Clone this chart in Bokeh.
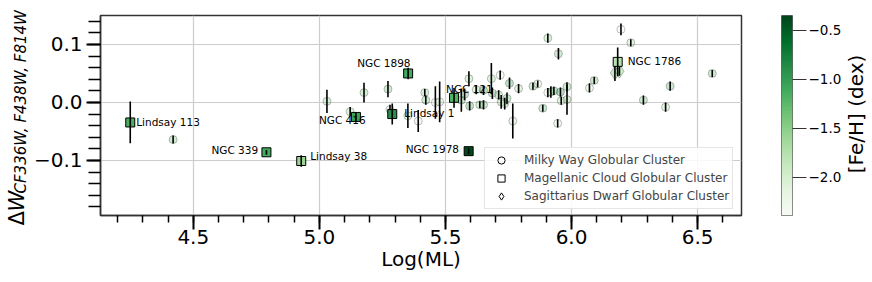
import numpy as np
from bokeh.plotting import figure
from bokeh.models import (ColumnDataSource, LinearColorMapper, Range1d, SingleIntervalTicker,
                          FixedTicker, CustomJSTickFormatter, Label, Legend, LegendItem)
from bokeh.layouts import row, column
from bokeh.palettes import Greens256
from bokeh.core.properties import value
from bokeh.embed import file_html
from bokeh.resources import INLINE

# ---------------- data ----------------
# Milky Way globular clusters
mw_logml = [4.42, 5.03, 5.122, 5.177, 5.272, 5.28, 5.351, 5.392, 5.418, 5.422, 5.46, 5.477,
            5.563, 5.576, 5.593, 5.596, 5.622, 5.636, 5.651, 5.651, 5.682, 5.686, 5.711, 5.717,
            5.721, 5.735, 5.744, 5.754, 5.767, 5.790, 5.847, 5.866, 5.886, 5.906, 5.906, 5.918,
            5.930, 5.945, 5.948, 5.956, 5.959, 5.982, 5.982, 6.071, 6.09, 6.196, 6.235, 6.285,
            6.373, 6.391, 6.558]
mw_dw = [-0.064, 0.002, -0.016, 0.017, 0.023, -0.012, -0.023, -0.032, 0.017, 0.004, 0.000, 0.001,
         0.004, 0.014, 0.041, -0.006, 0.022, -0.004, -0.004, 0.021, 0.041, 0.016, 0.013, 0.047,
         0.001, -0.002, 0.007, 0.033, -0.032, 0.024, 0.028, 0.032, -0.010, 0.111, 0.017, 0.018,
         0.020, -0.036, 0.084, 0.018, 0.003, 0.027, 0.005, 0.025, 0.038, 0.126, 0.103, 0.004,
         -0.008, 0.028, 0.050]
mw_err = [0.007, 0.020, 0.008, 0.017, 0.014, 0.008, 0.021, 0.019, 0.006, 0.008, 0.028, 0.035,
          0.020, 0.010, 0.013, 0.008, 0.008, 0.006, 0.008, 0.008, 0.027, 0.010, 0.008, 0.008,
          0.012, 0.010, 0.010, 0.010, 0.030, 0.008, 0.006, 0.006, 0.006, 0.008, 0.008, 0.010,
          0.007, 0.007, 0.010, 0.008, 0.007, 0.008, 0.026, 0.008, 0.006, 0.010, 0.006, 0.008,
          0.008, 0.008, 0.006]
mw_feh = [-1.3, -1.5, -1.6, -1.4, -1.3, -1.8, -1.7, -2.0, -1.5, -1.3, -2.1, -1.9,
          -1.2, -1.1, -1.5, -1.0, -1.6, -1.4, -1.2, -0.9, -1.6, -1.3, -1.5, -2.2,
          -1.4, -1.7, -1.2, -1.0, -1.8, -1.6, -1.3, -2.0, -1.2, -1.5, -2.3, -1.4,
          -1.1, -2.0, -1.3, -0.8, -1.6, -1.3, -1.5, -1.9, -1.2, -2.39, -1.6, -1.3,
          -1.7, -1.2, -1.3]

# Sagittarius dwarf globular clusters
sgr_logml = [6.172, 6.19]
sgr_dw = [0.051, 0.054]
sgr_err = [0.014, 0.008]
sgr_feh = [-1.49, -1.6]

# Magellanic Cloud globular clusters
mc_names = ["Lindsay 113", "NGC 339", "Lindsay 38", "NGC 416", "Lindsay 1",
            "NGC 1898", "NGC 121", "NGC 1978", "NGC 1786"]
mc_logml = [4.25, 4.79, 4.928, 5.145, 5.289, 5.352, 5.534, 5.592, 6.183]
mc_dw = [-0.0345, -0.086, -0.101, -0.025, -0.020, 0.050, 0.008, -0.084, 0.070]
mc_err = [0.036, 0.004, 0.010, 0.008, 0.018, 0.010, 0.017, 0.005, 0.025]
mc_feh = [-1.15, -1.12, -1.59, -1.05, -0.90, -1.10, -1.20, -0.38, -1.75]

feh_ticks = [-2.0, -1.5, -1.0, -0.5]
feh_low, feh_high = -2.39, -0.347
legend_labels = ["Milky Way Globular Cluster", "Magellanic Cloud Globular Cluster",
                 "Sagittarius Dwarf Globular Cluster"]

# ---------------- layout / style ----------------
label_offsets = {  # screen px (dx, dy) of left edge / middle of label text
    "Lindsay 113": (6, 0), "NGC 339": (-55, -2), "Lindsay 38": (9, -5),
    "NGC 416": (-37, 3), "Lindsay 1": (12, -1), "NGC 1898": (-51, -10),
    "NGC 121": (-8, -9), "NGC 1978": (-63, -2), "NGC 1786": (10, -1),
}
FONT = "DejaVu Sans"
H = 282

pal = list(Greens256)
def _lum(h):
    return int(h[1:3], 16) + int(h[3:5], 16) + int(h[5:7], 16)
if _lum(pal[0]) < _lum(pal[-1]):
    pal = pal[::-1]
mapper = LinearColorMapper(palette=pal, low=feh_low, high=feh_high)

def src(x, y, e, f, names=None):
    d = dict(x=x, y=y, feh=f,
             lo=[a - b for a, b in zip(y, e)], hi=[a + b for a, b in zip(y, e)])
    if names is not None:
        d["name"] = names
        d["dx"] = [label_offsets[n][0] for n in names]
        d["dy"] = [label_offsets[n][1] for n in names]
    return ColumnDataSource(d)

mw_src = src(mw_logml, mw_dw, mw_err, mw_feh)
sgr_src = src(sgr_logml, sgr_dw, sgr_err, sgr_feh)
mc_src = src(mc_logml, mc_dw, mc_err, mc_feh, mc_names)

def blank(width):
    f = figure(width=width, height=H, x_range=Range1d(0, 1), y_range=Range1d(0, 1),
               output_backend="svg", toolbar_location=None, x_axis_type=None, y_axis_type=None,
               min_border=0)
    f.grid.visible = False
    f.outline_line_color = None
    f.background_fill_color = "white"
    f.border_fill_color = "white"
    return f

def vlabel(fig, text, x, y, size, style="normal", align="left"):
    fig.add_layout(Label(x=x, y=y, x_units="screen", y_units="screen", text=text,
                         angle=np.pi / 2, text_font=FONT, text_font_size=size,
                         text_font_style=style, text_align=align,
                         text_baseline="alphabetic", text_color="black"))

# ---------------- y-axis title panel ----------------
ylab = blank(30)
vlabel(ylab, "Δ", 16, 57, "21px")
vlabel(ylab, "W", 16, 71, "21px", "italic")
vlabel(ylab, "CF336W, F438W, F814W", 20.5, 89, "15px", "italic")

# ---------------- main plot ----------------
p = figure(width=720, height=H, x_range=Range1d(4.132, 6.674), y_range=Range1d(-0.195, 0.150),
           output_backend="svg", toolbar_location=None,
           min_border_left=68, min_border_right=9, min_border_top=15, min_border_bottom=67)
p.background_fill_color = "white"
p.border_fill_color = "white"
p.outline_line_color = "#333333"
p.outline_line_width = 1.5

p.xaxis.ticker = SingleIntervalTicker(interval=0.5, num_minor_ticks=5)
p.yaxis.ticker = SingleIntervalTicker(interval=0.1, num_minor_ticks=5)
fmt = CustomJSTickFormatter(code="""
    if (Math.abs(tick) < 1e-9) { return '0.0'; }
    return tick.toFixed(1).replace('-', '\\u2212');
""")
p.xaxis.formatter = fmt
p.yaxis.formatter = fmt
for ax in (p.xaxis[0], p.yaxis[0]):
    ax.axis_line_color = "#333333"
    ax.axis_line_width = 1.5
    ax.major_tick_in = 0
    ax.minor_tick_in = 0
    ax.major_tick_line_width = 2
    ax.minor_tick_line_width = 1.5
    ax.major_tick_line_color = "black"
    ax.minor_tick_line_color = "black"
    ax.major_label_text_font = FONT
    ax.major_label_text_font_size = "20px"
    ax.major_label_text_color = "black"
p.xaxis.major_tick_out = 14
p.xaxis.minor_tick_out = 7
p.yaxis.major_tick_out = 14
p.yaxis.minor_tick_out = 12
p.xaxis.major_label_standoff = 0
p.yaxis.major_label_standoff = 4
p.xaxis.axis_label = "Log(ML)"
p.xaxis.axis_label_standoff = 0
p.xaxis.axis_label_text_font = FONT
p.xaxis.axis_label_text_font_size = "20px"
p.xaxis.axis_label_text_font_style = "normal"
p.xaxis.axis_label_text_color = "black"
p.grid.grid_line_color = "#cccccc"
p.grid.grid_line_width = 1.2

# legend-only renderers (zero-size, drawn beneath the real markers)
r_c = p.scatter("x", "y", source=mw_src, marker="circle", size=0,
                fill_color="white", line_color="black", line_width=1)
r_s = p.scatter("x", "y", source=mc_src, marker="square", size=0,
                fill_color="white", line_color="black", line_width=1)
r_d = p.scatter("x", "y", source=sgr_src, marker="diamond", size=0,
                fill_color="white", line_color="black", line_width=1)

# Milky Way circles
p.scatter("x", "y", source=mw_src, marker="circle", size=8,
          fill_color={"field": "feh", "transform": mapper}, fill_alpha=0.3,
          line_color="black", line_alpha=0.25, line_width=1)
p.segment(x0="x", y0="lo", x1="x", y1="hi", source=mw_src, line_color="black", line_width=1.6)

# Sagittarius diamonds
p.scatter("x", "y", source=sgr_src, marker="diamond", size=14,
          fill_color={"field": "feh", "transform": mapper}, fill_alpha=0.5,
          line_color="black", line_alpha=0.25)
p.segment(x0="x", y0="lo", x1="x", y1="hi", source=sgr_src, line_color="black", line_width=1.6)

# Magellanic Cloud squares
p.scatter("x", "y", source=mc_src, marker="square", size=9,
          fill_color={"field": "feh", "transform": mapper}, fill_alpha=1.0,
          line_color="black", line_width=1)
p.segment(x0="x", y0="lo", x1="x", y1="hi", source=mc_src, line_color="black", line_width=1.6)

p.text("x", "y", text="name", source=mc_src, x_offset="dx", y_offset="dy",
       text_font=value(FONT), text_font_size="10.5px", text_align="left",
       text_baseline="middle", text_color="black")

legend = Legend(items=[LegendItem(label=legend_labels[0], renderers=[r_c]),
                       LegendItem(label=legend_labels[1], renderers=[r_s]),
                       LegendItem(label=legend_labels[2], renderers=[r_d])],
                location=(384, 6), orientation="vertical",
                label_text_font=FONT, label_text_font_size="12px",
                glyph_height=18, glyph_width=26, label_height=14, spacing=-1,
                padding=3, margin=0, label_standoff=10,
                border_line_color="#cccccc", border_line_width=1,
                background_fill_color="white", background_fill_alpha=0.85)
p.add_layout(legend, "center")

# ---------------- colorbar ----------------
cb = figure(width=95, height=H, x_range=Range1d(0, 1), y_range=Range1d(feh_low, feh_high),
            output_backend="svg", toolbar_location=None, x_axis_type=None,
            y_axis_location="right",
            min_border_left=31, min_border_right=53, min_border_top=15, min_border_bottom=67)
cb.grid.visible = False
cb.outline_line_color = "#666666"
cb.outline_line_width = 1
cb.border_fill_color = "white"
grad = np.linspace(feh_low, feh_high, 256).reshape(256, 1)
cb.image(image=[grad], x=0, y=feh_low, dw=1, dh=feh_high - feh_low, color_mapper=mapper)
cax = cb.yaxis[0]
cax.ticker = FixedTicker(ticks=feh_ticks)
cax.formatter = CustomJSTickFormatter(code="return tick.toFixed(1).replace('-', '\\u2212');")
cax.axis_line_color = None
cax.major_tick_in = 0
cax.major_tick_out = 14
cax.minor_tick_line_color = None
cax.major_tick_line_color = "#333333"
cax.major_tick_line_width = 1
cax.major_label_standoff = 2
cax.major_label_text_font = FONT
cax.major_label_text_font_size = "13.5px"
cax.major_label_text_color = "black"

cblab = blank(27)
vlabel(cblab, "[Fe/H] (dex)", 10, 168.5, "20px", align="center")

layout = row(column(ylab), p, cb, column(cblab), spacing=0)
open("out.html", "w", encoding="utf-8").write(file_html(layout, INLINE))
